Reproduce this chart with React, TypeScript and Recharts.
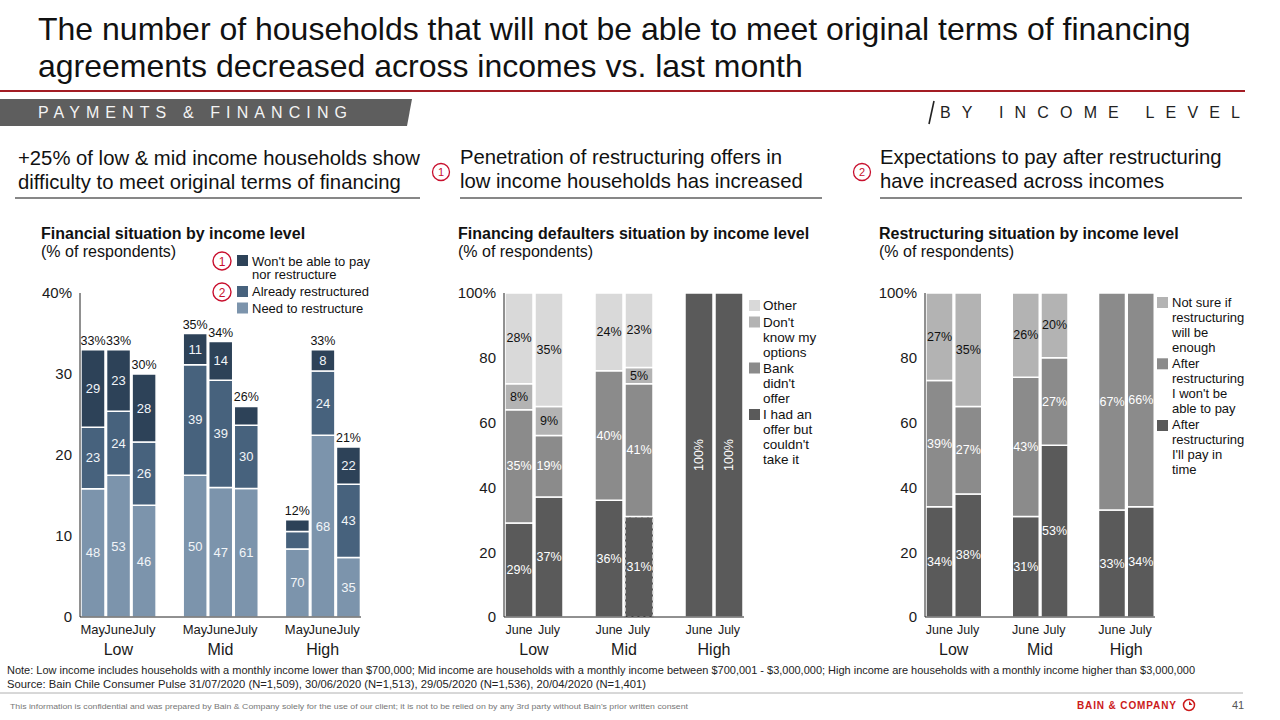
import React from 'react';
import { BarChart, Bar, XAxis, YAxis, LabelList, Cell } from 'recharts';

const FONT = '"Liberation Sans", Arial, Helvetica, sans-serif';

// ---------- Shared categories ----------
const incomeGroups = ['Low', 'Mid', 'High'];

// ---------- Left chart: Financial situation by income level ----------
const leftMonths = ['May', 'June', 'July'];
const leftTotals = [33, 33, 30, 35, 34, 26, 12, 33, 21];
const leftNeedShare = [48, 53, 46, 50, 47, 61, 70, 68, 35];
const leftAlreadyShare = [23, 24, 26, 39, 39, 30, 18, 24, 43];
const leftWontShare = [29, 23, 28, 11, 14, 9, 12, 8, 22];
const leftNeedLabels = [48, 53, 46, 50, 47, 61, 70, 68, 35];
const leftAlreadyLabels = [23, 24, 26, 39, 39, 30, null, 24, 43];
const leftWontLabels = [29, 23, 28, 11, 14, null, null, 8, 22];
const leftYTicks = [0, 10, 20, 30, 40];

// ---------- Middle chart: Financing defaulters situation ----------
const twoMonths = ['June', 'July'];
const midOffer = [29, 37, 36, 31, 100, 100];
const midBank = [35, 19, 40, 41, 0, 0];
const midDontKnow = [8, 9, 0, 5, 0, 0];
const midOther = [28, 35, 24, 23, 0, 0];
const midDashedBar = 'Mid-July';

// ---------- Right chart: Restructuring situation ----------
const rightPay = [34, 38, 31, 53, 33, 34];
const rightWont = [39, 27, 43, 27, 67, 66];
const rightNotSure = [27, 35, 26, 20, 0, 0];
const pctYTicks = [0, 20, 40, 60, 80, 100];

// ---------- Colours ----------
const NAVY_DARK = '#2d4258';
const NAVY_MID = '#47627d';
const NAVY_LIGHT = '#7c94ac';
const G_OTHER = '#d9d9d9';
const G_DK = '#b3b3b3';
const G_MID = '#8b8b8b';
const G_DARK = '#5a5a5a';
const RED = '#c8102e';

function buildRows(months: string[], fill: (i: number) => Record<string, any>) {
  const rows: any[] = [];
  let i = 0;
  incomeGroups.forEach((g, gi) => {
    if (gi > 0) rows.push({ key: `gap${gi}`, month: '', group: '' });
    months.forEach((m, mi) => {
      rows.push({ key: `${g}-${m}`, month: m, group: mi === 0 ? g : '', ...fill(i) });
      i++;
    });
  });
  return rows;
}

const makeTick = (rows: any[], nMonths: number, halfPitch: number, monthSize: number) => (props: any) => {
  const { x, y, payload } = props;
  const row = rows.find((r) => r.key === payload.value);
  if (!row) return <g />;
  const off = typeof payload.offset === 'number' && payload.offset > 0 ? payload.offset : halfPitch;
  return (
    <g>
      {row.month ? (
        <text x={x} y={y + 8.5} textAnchor="middle" fontSize={monthSize} fill="#1a1a1a" fontFamily={FONT}>
          {row.month}
        </text>
      ) : null}
      {row.group ? (
        <text x={x + (nMonths - 1) * off} y={y + 29.5} textAnchor="middle" fontSize={16} fill="#1a1a1a" fontFamily={FONT}>
          {row.group}
        </text>
      ) : null}
    </g>
  );
};

const getBox = (props: any) => {
  const vb = props.viewBox && typeof props.viewBox.x === 'number' ? props.viewBox : props;
  return { x: Number(vb.x), y: Number(vb.y), width: Number(vb.width), height: Number(vb.height) };
};

const segLabel = (fill: string, suffix: string, size: number) => (props: any) => {
  const v = props.value;
  if (v === null || v === undefined || v === '' || Number(v) === 0) return <g />;
  const { x, y, width, height } = getBox(props);
  const cx = x + width / 2;
  const cy = y + height / 2;
  const text = `${v}${suffix}`;
  if (Number(v) >= 100) {
    return (
      <text x={cx} y={cy} transform={`rotate(-90 ${cx} ${cy})`} textAnchor="middle" dominantBaseline="central" fontSize={size} fill={fill} fontFamily={FONT}>
        {text}
      </text>
    );
  }
  return (
    <text x={cx} y={cy} textAnchor="middle" dominantBaseline="central" fontSize={size} fill={fill} fontFamily={FONT}>
      {text}
    </text>
  );
};

const topLabel = (props: any) => {
  const v = props.value;
  if (v === null || v === undefined || v === '') return <g />;
  const { x, y, width } = getBox(props);
  return (
    <text x={x + width / 2} y={y - 5} textAnchor="middle" fontSize={12.5} fill="#111" fontFamily={FONT}>
      {`${v}%`}
    </text>
  );
};

const CHART_TOP = 283;
const CHART_H = 384;
const MARGIN = { top: 10, right: 0, bottom: 0, left: 0 };
const axisStroke = { stroke: '#222', strokeWidth: 1 };
const yTick = { fontSize: 15, fill: '#1a1a1a', fontFamily: FONT };
const HEAD = 20.3;

export default function App() {
  const leftRows = buildRows(leftMonths, (i) => ({
    need: (leftTotals[i] * leftNeedShare[i]) / 100,
    already: (leftTotals[i] * leftAlreadyShare[i]) / 100,
    wont: (leftTotals[i] * leftWontShare[i]) / 100,
    needLbl: leftNeedLabels[i],
    alreadyLbl: leftAlreadyLabels[i],
    wontLbl: leftWontLabels[i],
    totalLbl: leftTotals[i],
  }));
  const midRows = buildRows(twoMonths, (i) => ({
    offer: midOffer[i],
    bank: midBank[i],
    dk: midDontKnow[i],
    other: midOther[i],
  }));
  const rightRows = buildRows(twoMonths, (i) => ({
    pay: rightPay[i],
    wont: rightWont[i],
    notsure: rightNotSure[i],
  }));

  const barStroke = { stroke: '#ffffff', strokeWidth: 1.5 };

  return (
    <div style={{ position: 'relative', width: 1280, height: 720, background: '#fff', fontFamily: FONT, overflow: 'hidden' }}>
      <style>{`body{margin:0;}`}</style>
      <svg width={1280} height={720} style={{ position: 'absolute', left: 0, top: 0 }} fontFamily={FONT}>
        {/* Title */}
        <text x={38} y={40} fontSize={32} fill="#111">The number of households that will not be able to meet original terms of financing</text>
        <text x={38} y={77} fontSize={32} fill="#111">agreements decreased across incomes vs. last month</text>
        <line x1={0} y1={91} x2={1245} y2={91} stroke="#a31d24" strokeWidth={2} />
        {/* Banner */}
        <polygon points="0,99 412,99 407,126 0,126" fill="#5e5e5e" />
        <text x={38} y={118} fontSize={16} fill="#f4f4f4" textLength={309} lengthAdjust="spacing">{'PAYMENTS & FINANCING'}</text>
        <line x1={934} y1={101} x2={929} y2={124} stroke="#222" strokeWidth={1.6} />
        <text x={940} y={118} fontSize={16} fill="#222" textLength={300} lengthAdjust="spacing">BY INCOME LEVEL</text>
        {/* Section headers */}
        <text x={18} y={165} fontSize={HEAD} fill="#111">{'+25% of low & mid income households show'}</text>
        <text x={18} y={189} fontSize={HEAD} fill="#111">difficulty to meet original terms of financing</text>
        <line x1={15} y1={198} x2={420} y2={198} stroke="#111" strokeWidth={1.2} />
        <circle cx={441} cy={172} r={8.5} fill="#fff" stroke={RED} strokeWidth={1.3} />
        <text x={441} y={176} fontSize={11} fill={RED} textAnchor="middle">1</text>
        <text x={460} y={164} fontSize={HEAD} fill="#111">Penetration of restructuring offers in</text>
        <text x={460} y={188} fontSize={HEAD} fill="#111">low income households has increased</text>
        <line x1={460} y1={198} x2={822} y2={198} stroke="#111" strokeWidth={1.2} />
        <circle cx={862} cy={172} r={8.5} fill="#fff" stroke={RED} strokeWidth={1.3} />
        <text x={862} y={176} fontSize={11} fill={RED} textAnchor="middle">2</text>
        <text x={880} y={164} fontSize={HEAD} fill="#111">Expectations to pay after restructuring</text>
        <text x={880} y={188} fontSize={HEAD} fill="#111">have increased across incomes</text>
        <line x1={880} y1={198} x2={1242} y2={198} stroke="#111" strokeWidth={1.2} />
        {/* Chart titles */}
        <text x={41} y={239} fontSize={16} fontWeight="bold" fill="#111">Financial situation by income level</text>
        <text x={41} y={257} fontSize={16} fill="#111">(% of respondents)</text>
        <text x={458} y={239} fontSize={16} fontWeight="bold" fill="#111">Financing defaulters situation by income level</text>
        <text x={458} y={257} fontSize={16} fill="#111">(% of respondents)</text>
        <text x={879} y={239} fontSize={16} fontWeight="bold" fill="#111">Restructuring situation by income level</text>
        <text x={879} y={257} fontSize={16} fill="#111">(% of respondents)</text>
        {/* Left legend */}
        <circle cx={222} cy={261} r={9} fill="#fff" stroke={RED} strokeWidth={1.4} />
        <text x={222} y={265.5} fontSize={12} fill={RED} textAnchor="middle">1</text>
        <rect x={237} y={255} width={11} height={11} fill={NAVY_DARK} />
        <text x={252} y={265.5} fontSize={13} fill="#111">{"Won't be able to pay"}</text>
        <text x={252} y={279} fontSize={13} fill="#111">nor restructure</text>
        <circle cx={222} cy={292} r={9} fill="#fff" stroke={RED} strokeWidth={1.4} />
        <text x={222} y={296.5} fontSize={12} fill={RED} textAnchor="middle">2</text>
        <rect x={237} y={286} width={11} height={11} fill={NAVY_MID} />
        <text x={252} y={296} fontSize={13} fill="#111">Already restructured</text>
        <rect x={237} y={302.5} width={11} height={11} fill={NAVY_LIGHT} />
        <text x={252} y={312.5} fontSize={13} fill="#111">Need to restructure</text>
        {/* Middle legend */}
        <rect x={749} y={300} width={11} height={11} fill={G_OTHER} />
        <text x={763} y={310} fontSize={13.5} fill="#111">Other</text>
        <rect x={749} y={316.5} width={11} height={11} fill={G_DK} />
        <text x={763} y={327} fontSize={13.5} fill="#111">{"Don't"}</text>
        <text x={763} y={342} fontSize={13.5} fill="#111">know my</text>
        <text x={763} y={357} fontSize={13.5} fill="#111">options</text>
        <rect x={749} y={362.5} width={11} height={11} fill={G_MID} />
        <text x={763} y={372.5} fontSize={13.5} fill="#111">Bank</text>
        <text x={763} y={388} fontSize={13.5} fill="#111">{"didn't"}</text>
        <text x={763} y={403} fontSize={13.5} fill="#111">offer</text>
        <rect x={749} y={409} width={11} height={11} fill={G_DARK} />
        <text x={763} y={419} fontSize={13.5} fill="#111">I had an</text>
        <text x={763} y={434} fontSize={13.5} fill="#111">offer but</text>
        <text x={763} y={449} fontSize={13.5} fill="#111">{"couldn't"}</text>
        <text x={763} y={464} fontSize={13.5} fill="#111">take it</text>
        {/* Right legend */}
        <rect x={1157} y={297} width={11} height={11} fill={G_DK} />
        <text x={1172} y={306.6} fontSize={13} fill="#111">Not sure if</text>
        <text x={1172} y={322.3} fontSize={13} fill="#111">restructuring</text>
        <text x={1172} y={337.3} fontSize={13} fill="#111">will be</text>
        <text x={1172} y={352.3} fontSize={13} fill="#111">enough</text>
        <rect x={1157} y={358.3} width={11} height={11} fill={G_MID} />
        <text x={1172} y={368} fontSize={13} fill="#111">After</text>
        <text x={1172} y={382.6} fontSize={13} fill="#111">restructuring</text>
        <text x={1172} y={398.3} fontSize={13} fill="#111">{"I won't be"}</text>
        <text x={1172} y={413.3} fontSize={13} fill="#111">able to pay</text>
        <rect x={1157} y={420} width={11} height={11} fill={G_DARK} />
        <text x={1172} y={429} fontSize={13} fill="#111">After</text>
        <text x={1172} y={444.3} fontSize={13} fill="#111">restructuring</text>
        <text x={1172} y={459.3} fontSize={13} fill="#111">{"I'll pay in"}</text>
        <text x={1172} y={474.3} fontSize={13} fill="#111">time</text>
        {/* Notes and footer */}
        <text x={7} y={674} fontSize={11} fill="#222" textLength={1188} lengthAdjust="spacingAndGlyphs">
          Note: Low income includes households with a monthly income lower than $700,000; Mid income are households with a monthly income between $700,001 - $3,000,000; High income are households with a monthly income higher than $3,000,000
        </text>
        <text x={7} y={688} fontSize={11} fill="#222" textLength={639} lengthAdjust="spacingAndGlyphs">
          Source: Bain Chile Consumer Pulse 31/07/2020 (N=1,509), 30/06/2020 (N=1,513), 29/05/2020 (N=1,536), 20/04/2020 (N=1,401)
        </text>
        <line x1={0} y1={693} x2={1243} y2={693} stroke="#b0b0b0" strokeWidth={1} />
        <text x={10} y={709} fontSize={7.5} fill="#777" textLength={678} lengthAdjust="spacingAndGlyphs">
          {"This information is confidential and was prepared by Bain & Company solely for the use of our client; it is not to be relied on by any 3rd party without Bain's prior written consent"}
        </text>
        <text x={1077} y={709} fontSize={10} fontWeight="bold" fill="#cc1a1a" textLength={99} lengthAdjust="spacing">{'BAIN & COMPANY'}</text>
        <circle cx={1189} cy={705} r={5.5} fill="none" stroke="#cc1a1a" strokeWidth={1.5} />
        <path d="M1189,705 L1189,701 L1192.5,705 Z" fill="#cc1a1a" />
        <text x={1232} y={709} fontSize={11} fill="#555">41</text>
      </svg>

      {/* Left chart */}
      <div style={{ position: 'absolute', left: 0, top: CHART_TOP }}>
        <BarChart width={361} height={CHART_H} data={leftRows} margin={MARGIN} barCategoryGap={1}>
          <XAxis dataKey="key" interval={0} tickLine={false} axisLine={axisStroke} height={50} tick={makeTick(leftRows, 3, 12.75, 13)} />
          <YAxis type="number" domain={[0, 40]} ticks={leftYTicks} tickLine={false} axisLine={axisStroke} width={80} tick={yTick}
            tickFormatter={(v: number) => (v === 40 ? '40%' : String(v))} />
          <Bar dataKey="need" stackId="s" fill={NAVY_LIGHT} {...barStroke} isAnimationActive={false}>
            <LabelList dataKey="needLbl" content={segLabel('#f2f5f8', '', 13)} />
          </Bar>
          <Bar dataKey="already" stackId="s" fill={NAVY_MID} {...barStroke} isAnimationActive={false}>
            <LabelList dataKey="alreadyLbl" content={segLabel('#f2f5f8', '', 13)} />
          </Bar>
          <Bar dataKey="wont" stackId="s" fill={NAVY_DARK} {...barStroke} isAnimationActive={false}>
            <LabelList dataKey="wontLbl" content={segLabel('#f2f5f8', '', 13)} />
            <LabelList dataKey="totalLbl" content={topLabel} />
          </Bar>
        </BarChart>
      </div>

      {/* Middle chart */}
      <div style={{ position: 'absolute', left: 424, top: CHART_TOP }}>
        <BarChart width={320} height={CHART_H} data={midRows} margin={MARGIN} barCategoryGap={1}>
          <XAxis dataKey="key" interval={0} tickLine={false} axisLine={axisStroke} height={50} tick={makeTick(midRows, 2, 15, 12.5)} />
          <YAxis type="number" domain={[0, 100]} ticks={pctYTicks} tickLine={false} axisLine={axisStroke} width={80} tick={yTick}
            tickFormatter={(v: number) => (v === 100 ? '100%' : String(v))} />
          <Bar dataKey="offer" stackId="s" fill={G_DARK} {...barStroke} isAnimationActive={false}>
            {midRows.map((r) => (
              <Cell key={r.key} stroke={r.key === midDashedBar ? '#e6e6e6' : '#ffffff'} strokeDasharray={r.key === midDashedBar ? '4 2' : undefined} />
            ))}
            <LabelList dataKey="offer" content={segLabel('#ffffff', '%', 12.5)} />
          </Bar>
          <Bar dataKey="bank" stackId="s" fill={G_MID} {...barStroke} isAnimationActive={false}>
            <LabelList dataKey="bank" content={segLabel('#ffffff', '%', 12.5)} />
          </Bar>
          <Bar dataKey="dk" stackId="s" fill={G_DK} {...barStroke} isAnimationActive={false}>
            <LabelList dataKey="dk" content={segLabel('#111111', '%', 12.5)} />
          </Bar>
          <Bar dataKey="other" stackId="s" fill={G_OTHER} {...barStroke} isAnimationActive={false}>
            <LabelList dataKey="other" content={segLabel('#111111', '%', 12.5)} />
          </Bar>
        </BarChart>
      </div>

      {/* Right chart */}
      <div style={{ position: 'absolute', left: 845, top: CHART_TOP }}>
        <BarChart width={310} height={CHART_H} data={rightRows} margin={MARGIN} barCategoryGap={1}>
          <XAxis dataKey="key" interval={0} tickLine={false} axisLine={axisStroke} height={50} tick={makeTick(rightRows, 2, 14.4, 12.5)} />
          <YAxis type="number" domain={[0, 100]} ticks={pctYTicks} tickLine={false} axisLine={axisStroke} width={80} tick={yTick}
            tickFormatter={(v: number) => (v === 100 ? '100%' : String(v))} />
          <Bar dataKey="pay" stackId="s" fill={G_DARK} {...barStroke} isAnimationActive={false}>
            <LabelList dataKey="pay" content={segLabel('#ffffff', '%', 12.5)} />
          </Bar>
          <Bar dataKey="wont" stackId="s" fill={G_MID} {...barStroke} isAnimationActive={false}>
            <LabelList dataKey="wont" content={segLabel('#ffffff', '%', 12.5)} />
          </Bar>
          <Bar dataKey="notsure" stackId="s" fill={G_DK} {...barStroke} isAnimationActive={false}>
            <LabelList dataKey="notsure" content={segLabel('#111111', '%', 12.5)} />
          </Bar>
        </BarChart>
      </div>
    </div>
  );
}
